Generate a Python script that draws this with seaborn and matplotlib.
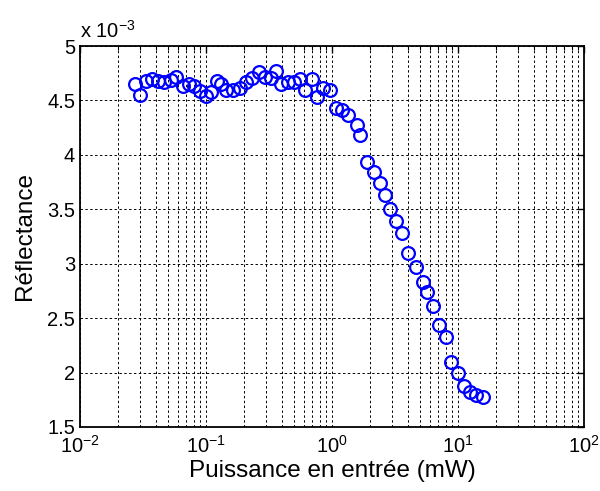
# Reflectance vs input power (MATLAB-style log plot)
import numpy as np
import pandas as pd
import matplotlib
matplotlib.use("Agg")
import matplotlib.pyplot as plt
import matplotlib.ticker as mticker
import seaborn as sns

# Input power (mW)
power_mw = [0.0273, 0.0299, 0.0337, 0.0376, 0.0416, 0.0464, 0.0523, 0.0583, 0.0651, 0.0733,
            0.0803, 0.0896, 0.100, 0.1096, 0.1212, 0.1327, 0.1441, 0.1623, 0.1845, 0.2077,
            0.2297, 0.2611, 0.2939, 0.3310, 0.3594, 0.3973, 0.4474, 0.4994, 0.5522, 0.6106,
            0.6940, 0.7672, 0.8484, 0.964, 1.076, 1.200, 1.340, 1.565, 1.668, 1.896,
            2.154, 2.404, 2.634, 2.912, 3.250, 3.594, 4.011, 4.642, 5.275, 5.675,
            6.277, 7.066, 8.031, 8.878, 10.0, 11.16, 12.45, 13.90, 15.79]

# Reflectance (x 1e-3)
reflectance_e3 = [4.651, 4.550, 4.679, 4.697, 4.674, 4.665, 4.688, 4.711, 4.628, 4.647,
                  4.633, 4.583, 4.541, 4.578, 4.679, 4.647, 4.596, 4.592, 4.610, 4.670,
                  4.706, 4.757, 4.716, 4.706, 4.771, 4.651, 4.670, 4.670, 4.697, 4.592,
                  4.697, 4.528, 4.615, 4.596, 4.427, 4.413, 4.367, 4.275, 4.183, 3.931,
                  3.839, 3.743, 3.633, 3.500, 3.394, 3.280, 3.101, 2.972, 2.835, 2.743,
                  2.615, 2.440, 2.330, 2.096, 2.000, 1.881, 1.826, 1.798, 1.771]

y_ticks = [1.5, 2, 2.5, 3, 3.5, 4, 4.5, 5]

df = pd.DataFrame({"power": power_mw, "refl": np.array(reflectance_e3) * 1e-3})

sns.set_theme(style="white")
plt.rcParams['font.family'] = ['Liberation Sans', 'DejaVu Sans']
plt.rcParams['mathtext.fontset'] = 'custom'
plt.rcParams['mathtext.rm'] = 'Liberation Sans'
plt.rcParams['mathtext.it'] = 'Liberation Sans'

fig = plt.figure(figsize=(6.0, 4.91), dpi=100)
ax = fig.add_axes([80 / 600, 64 / 491, 504 / 600, 381 / 491])

sns.lineplot(data=df, x="power", y="refl", ax=ax, linestyle='', marker='o',
             markersize=9.2, markerfacecolor='none', markeredgecolor='#0000ff',
             markeredgewidth=1.6, color='#0000ff', sort=False)

ax.set_xscale('log')
ax.set_xlim(1e-2, 1e2)
ax.set_ylim(1.5e-3, 5e-3)
ax.set_yticks([v * 1e-3 for v in y_ticks])
ax.yaxis.set_major_formatter(mticker.FuncFormatter(lambda v, p: "%g" % round(v * 1e3, 3)))
ax.xaxis.set_major_locator(mticker.LogLocator(base=10, numticks=10))
ax.xaxis.set_minor_locator(mticker.LogLocator(base=10, subs=np.arange(2, 10), numticks=20))

# grid: dashed black, minor lines for x only
grid_kw = dict(color='black', linestyle=(0, (2.5, 2.5)), linewidth=0.7)
ax.grid(which='major', axis='both', **grid_kw)
ax.grid(which='minor', axis='x', **grid_kw)
ax.set_axisbelow(True)

ax.tick_params(which='both', direction='in', top=True, right=True, labelsize=14.5,
               color='black', labelcolor='black')
ax.tick_params(which='major', length=5, width=1)
ax.tick_params(which='minor', length=3, width=0.8)
ax.tick_params(axis='x', pad=6)
for s in ax.spines.values():
    s.set_color('black')
    s.set_linewidth(1.3)

ax.set_xlabel("Puissance en entrée (mW)", fontsize=17.5, color='black', labelpad=2)
ax.set_ylabel("Réflectance", fontsize=17.5, color='black', labelpad=8)
ax.text(0.0, 1.012, r"x 10$^{-3}$", transform=ax.transAxes, fontsize=14.5,
        ha='left', va='bottom', color='black')

fig.savefig("out.png", dpi=100, facecolor='white')
